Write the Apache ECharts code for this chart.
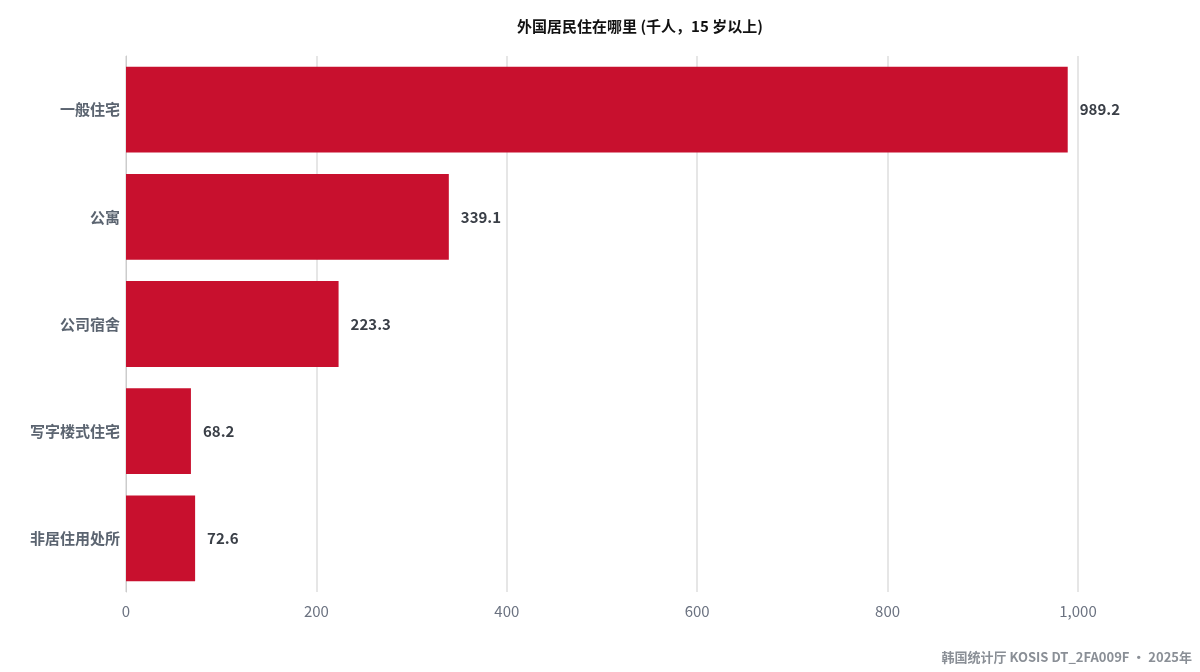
<!DOCTYPE html>
<html><head><meta charset="utf-8">
<script src="https://cdn.jsdelivr.net/npm/echarts@6/dist/echarts.min.js"></script>
<style>html,body{margin:0;padding:0;background:#fff}#c{width:1200px;height:672px}</style>
</head><body><div id="c"></div>
<script>
const categories = ["一般住宅","公寓","公司宿舍","写字楼式住宅","非居住用处所"];
const values = [989.2, 339.1, 223.3, 68.2, 72.6];
const xTicks = [0,200,400,600,800,1000];
const font = "'Noto Sans CJK SC','Noto Sans',sans-serif";
const chart = echarts.init(document.getElementById('c'));
chart.setOption({
  animation:false,
  title:{text:"外国居民住在哪里 (千人，15 岁以上)",left:512,top:14,textStyle:{fontFamily:font,fontSize:15,fontWeight:'bold',color:'#111'}},
  graphic:[{type:'text',right:8,bottom:8,style:{text:"韩国统计厅 KOSIS DT_2FA009F • 2025年",fontFamily:font,fontSize:13,fontWeight:'bold',fill:'#8a8f96'}}],
  grid:{left:126,right:122,top:56,bottom:80},
  xAxis:{type:'value',min:0,max:1000,interval:200,
    axisLine:{show:false},axisTick:{show:false},
    splitLine:{lineStyle:{color:'#dedede',width:1.5}},
    axisLabel:{fontFamily:font,fontSize:15,color:'#6b7280',margin:12}},
  yAxis:{type:'category',data:categories,inverse:true,
    axisLine:{lineStyle:{color:'#cccccc'}},axisTick:{show:false},
    axisLabel:{fontFamily:font,fontSize:15,fontWeight:'bold',color:'#5b6470',margin:6}},
  series:[{type:'bar',data:values,barCategoryGap:'20%',itemStyle:{color:'#c8102e'},
    label:{show:true,position:'right',distance:12,fontFamily:font,fontSize:15,fontWeight:'bold',color:'#3a3f47',formatter:p=>p.value.toFixed(1)}}]
});
</script></body></html>
